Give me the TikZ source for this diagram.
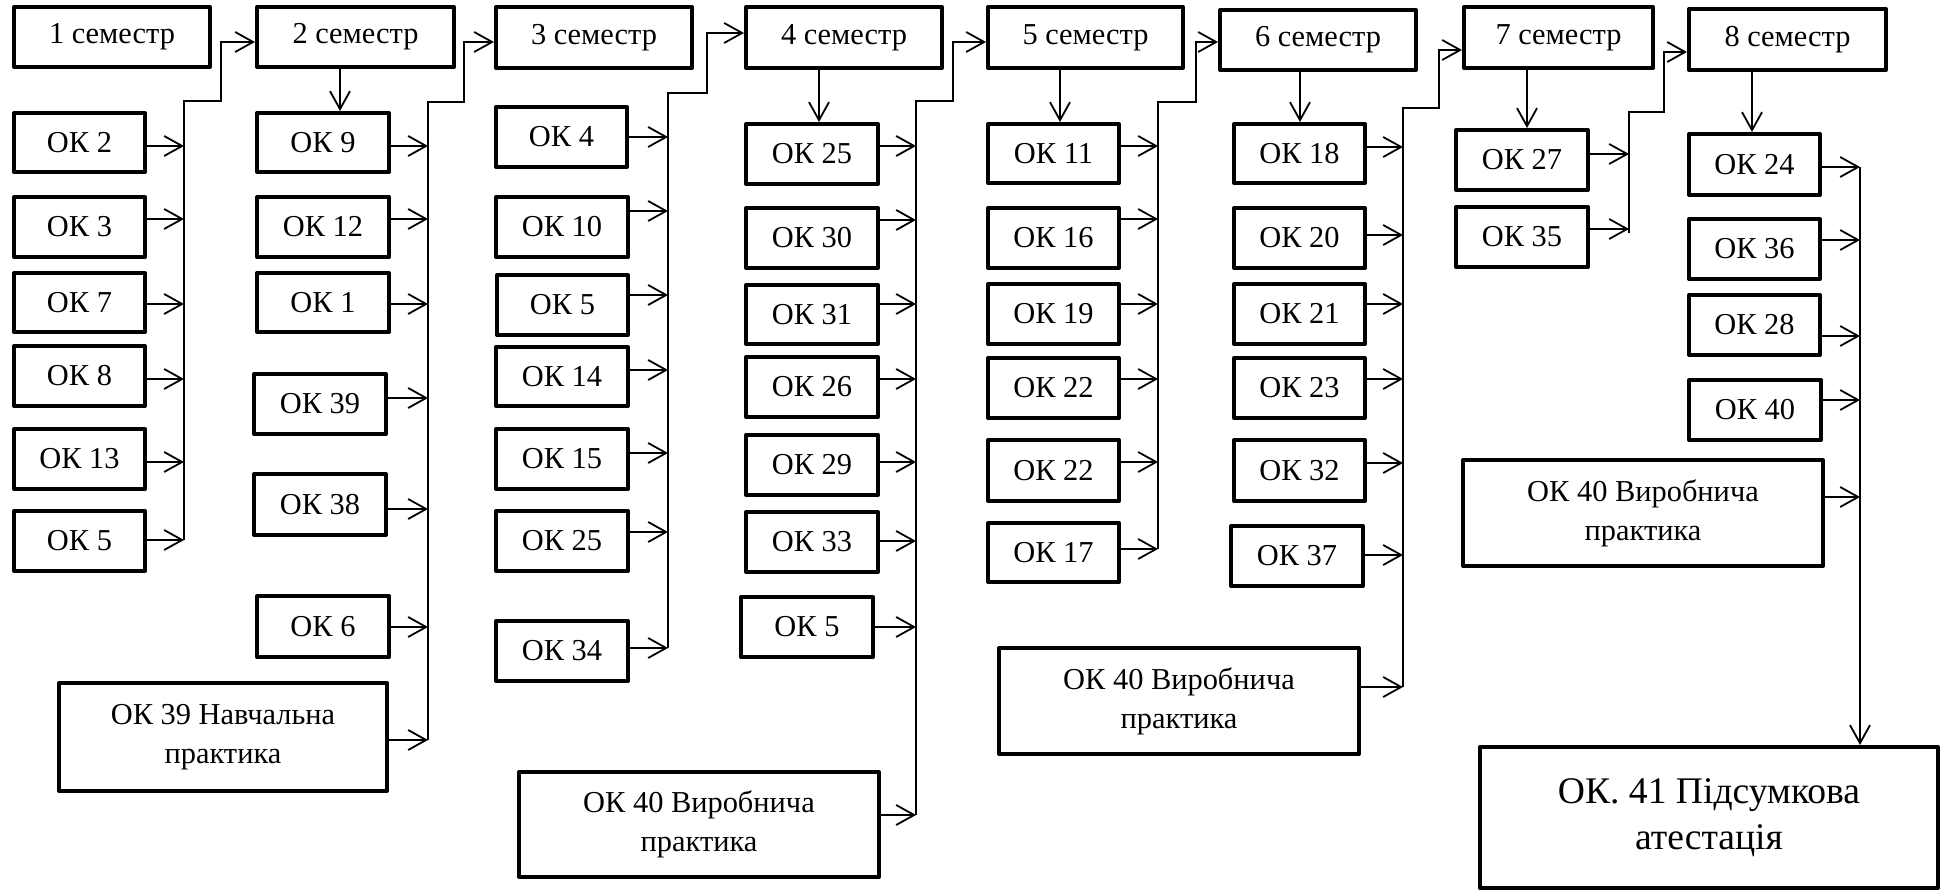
\documentclass[tikz,border=0pt]{standalone}
\usepackage{fontspec}
\setmainfont{Liberation Serif}
\usetikzlibrary{arrows.meta}
\tikzset{
  box/.style={draw, line width=2pt, line join=round, inner sep=0pt, align=center,
    font=\fontsize{15.2}{19.5}\selectfont},
  bigtext/.style={font=\fontsize{18.8}{23}\selectfont},
  arr/.style={line width=0.9pt, -{Straight Barb[length=9pt,width=10pt,line width=0.9pt]}},
}
\newcommand{\obox}[7][]{%
  \pgfmathsetmacro\obw{(#5-#3-4)*0.5}%
  \pgfmathsetmacro\obh{(#6-#4-4)*0.5}%
  \node[box,#1,minimum width=\obw pt,minimum height=\obh pt] (#2) at ({(#3+#5)/2},{(#4+#6)/2}) {#7};}
\newcommand{\inar}[3]{\draw[arr] (#1.east |- 0,#3) -- (#2 |- 0,#3);}
\begin{document}
\begin{tikzpicture}[x=0.5pt,y=-0.5pt]
\useasboundingbox (0,0) rectangle (1948,892);
% ---------- column 1
\obox{s1}{12}{5}{212}{69}{1 семестр}
\obox{a2}{12}{111}{147}{174}{ОК 2}
\obox{a3}{12}{195}{147}{259}{ОК 3}
\obox{a7}{12}{271}{147}{334}{ОК 7}
\obox{a8}{12}{344}{147}{408}{ОК 8}
\obox{a13}{12}{427}{147}{491}{ОК 13}
\obox{a5}{12}{509}{147}{573}{ОК 5}
% ---------- column 2
\obox{s2}{255}{5}{456}{69}{2 семестр}
\obox{b9}{255}{111}{391}{174}{ОК 9}
\obox{b12}{255}{195}{391}{259}{ОК 12}
\obox{b1}{255}{271}{391}{334}{ОК 1}
\obox{b39}{252}{372}{388}{436}{ОК 39}
\obox{b38}{252}{472}{388}{537}{ОК 38}
\obox{b6}{255}{594}{391}{659}{ОК 6}
\obox{bN}{57}{681}{389}{793}{ОК 39 Навчальна\\практика}
% ---------- column 3
\obox{s3}{494}{5}{694}{70}{3 семестр}
\obox{c4}{494}{105}{629}{169}{ОК 4}
\obox{c10}{494}{195}{630}{259}{ОК 10}
\obox{c5}{495}{273}{630}{337}{ОК 5}
\obox{c14}{494}{345}{630}{408}{ОК 14}
\obox{c15}{494}{427}{630}{491}{ОК 15}
\obox{c25}{494}{509}{630}{573}{ОК 25}
\obox{c34}{494}{619}{630}{683}{ОК 34}
% ---------- column 4
\obox{s4}{744}{5}{944}{70}{4 семестр}
\obox{d25}{744}{122}{880}{186}{ОК 25}
\obox{d30}{744}{206}{880}{270}{ОК 30}
\obox{d31}{744}{283}{880}{346}{ОК 31}
\obox{d26}{744}{355}{880}{419}{ОК 26}
\obox{d29}{744}{433}{880}{497}{ОК 29}
\obox{d33}{744}{510}{880}{574}{ОК 33}
\obox{d5}{739}{595}{875}{659}{ОК 5}
\obox{dV}{517}{770}{881}{879}{ОК 40 Виробнича\\практика}
% ---------- column 5
\obox{s5}{986}{5}{1185}{70}{5 семестр}
\obox{e11}{986}{122}{1121}{185}{ОК 11}
\obox{e16}{986}{206}{1121}{270}{ОК 16}
\obox{e19}{986}{282}{1121}{346}{ОК 19}
\obox{e22}{986}{356}{1121}{420}{ОК 22}
\obox{e22b}{986}{438}{1121}{503}{ОК 22}
\obox{e17}{986}{521}{1121}{584}{ОК 17}
% ---------- column 6
\obox{s6}{1218}{8}{1418}{72}{6 семестр}
\obox{f18}{1232}{122}{1367}{185}{ОК 18}
\obox{f20}{1232}{206}{1367}{270}{ОК 20}
\obox{f21}{1232}{282}{1367}{346}{ОК 21}
\obox{f23}{1232}{356}{1367}{420}{ОК 23}
\obox{f32}{1232}{438}{1367}{503}{ОК 32}
\obox{f37}{1229}{524}{1365}{588}{ОК 37}
\obox{fV}{997}{646}{1361}{756}{ОК 40 Виробнича\\практика}
% ---------- column 7
\obox{s7}{1462}{5}{1655}{70}{7 семестр}
\obox{g27}{1454}{128}{1590}{192}{ОК 27}
\obox{g35}{1454}{205}{1590}{269}{ОК 35}
% ---------- column 8
\obox{s8}{1687}{7}{1888}{72}{8 семестр}
\obox{h24}{1687}{132}{1822}{197}{ОК 24}
\obox{h36}{1687}{217}{1822}{281}{ОК 36}
\obox{h28}{1687}{293}{1822}{357}{ОК 28}
\obox{h40}{1687}{378}{1823}{442}{ОК 40}
\obox{hV}{1461}{458}{1825}{568}{ОК 40 Виробнича\\практика}
\obox[bigtext]{fin}{1478}{745}{1940}{890}{ОК. 41 Підсумкова\\атестація}
% ---------- bus coordinates (top of each bus)
\coordinate (busA) at (184,101);
\coordinate (busB) at (428,102);
\coordinate (busC) at (668,93);
\coordinate (busD) at (916,101);
\coordinate (busE) at (1158,102);
\coordinate (busF) at (1403,108);
\coordinate (busG) at (1629,112);
\coordinate (busH) at (1860,167);
% ---------- semester -> first subject
\draw[arr] (s2.south -| 340,0) -- (b9.north -| 340,0);
\draw[arr] (s4.south -| 819,0) -- (d25.north -| 819,0);
\draw[arr] (s5.south -| 1060,0) -- (e11.north -| 1060,0);
\draw[arr] (s6.south -| 1300,0) -- (f18.north -| 1300,0);
\draw[arr] (s7.south -| 1527,0) -- (g27.north -| 1527,0);
\draw[arr] (s8.south -| 1752,0) -- (h24.north -| 1752,0);
% ---------- subjects -> buses
\inar{a2}{busA}{146} \inar{a3}{busA}{219} \inar{a7}{busA}{304}
\inar{a8}{busA}{379} \inar{a13}{busA}{462} \inar{a5}{busA}{540}
\inar{b9}{busB}{146} \inar{b12}{busB}{219} \inar{b1}{busB}{304}
\inar{b39}{busB}{398} \inar{b38}{busB}{509} \inar{b6}{busB}{627} \inar{bN}{busB}{740}
\inar{c4}{busC}{137} \inar{c10}{busC}{211} \inar{c5}{busC}{295}
\inar{c14}{busC}{370} \inar{c15}{busC}{453} \inar{c25}{busC}{532} \inar{c34}{busC}{648}
\inar{d25}{busD}{146} \inar{d30}{busD}{220} \inar{d31}{busD}{304} \inar{d26}{busD}{379}
\inar{d29}{busD}{462} \inar{d33}{busD}{541} \inar{d5}{busD}{627} \inar{dV}{busD}{815}
\inar{e11}{busE}{146} \inar{e16}{busE}{219} \inar{e19}{busE}{304}
\inar{e22}{busE}{379} \inar{e22b}{busE}{462} \inar{e17}{busE}{549}
\inar{f18}{busF}{147} \inar{f20}{busF}{235} \inar{f21}{busF}{304}
\inar{f23}{busF}{379} \inar{f32}{busF}{463} \inar{f37}{busF}{555} \inar{fV}{busF}{687}
\inar{g27}{busG}{154} \inar{g35}{busG}{229}
\inar{h24}{busH}{167} \inar{h36}{busH}{240} \inar{h28}{busH}{336}
\inar{h40}{busH}{400} \inar{hV}{busH}{497}
% ---------- buses -> next semester
\draw[arr] (busA |- 0,540) -- (busA) -- ++(37,0) |- (s2.west |- 0,42);
\draw[arr] (busB |- 0,740) -- (busB) -- ++(36,0) |- (s3.west |- 0,42);
\draw[arr] (busC |- 0,648) -- (busC) -- ++(39,0) |- (s4.west |- 0,33);
\draw[arr] (busD |- 0,815) -- (busD) -- ++(37,0) |- (s5.west |- 0,42);
\draw[arr] (busE |- 0,549) -- (busE) -- ++(38,0) |- (s6.west |- 0,42);
\draw[arr] (busF |- 0,687) -- (busF) -- ++(36,0) |- (s7.west |- 0,50);
\draw[arr] (busG |- 0,233) -- (busG) -- ++(35,0) |- (s8.west |- 0,52);
\draw[arr] (busH) -- (fin.north -| busH);
\end{tikzpicture}
\end{document}
